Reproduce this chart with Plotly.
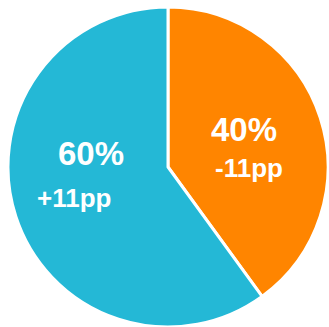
import plotly.graph_objects as go

# Share split and change in percentage points
labels = ["B", "A"]
shares = [40, 60]
changes = ["-11pp", "+11pp"]
colors = ["#FF8500", "#24B8D6"]

W, H = 329, 327

fig = go.Figure(
    go.Pie(
        labels=labels,
        values=shares,
        sort=False,
        direction="clockwise",
        rotation=0,
        marker=dict(colors=colors, line=dict(color="white", width=3)),
        textinfo="none",
        hoverinfo="label+percent",
        showlegend=False,
        domain=dict(x=[8 / W, 328 / W], y=[0, 1 - 7 / H]),
    )
)

# Label centres in pixels (x, y) for share and change lines
pct_pos = [(244, 129), (91, 153)]
chg_pos = [(249, 168), (74, 198)]

annotations = []
for share, change, (px, py), (cx, cy) in zip(shares, changes, pct_pos, chg_pos):
    annotations.append(dict(
        x=px / W, y=1 - py / H, xref="paper", yref="paper",
        text=f"{share}%", showarrow=False, xanchor="center", yanchor="middle",
        font=dict(family="Liberation Sans, Arial, sans-serif", size=33, color="white", weight="bold"),
    ))
    annotations.append(dict(
        x=cx / W, y=1 - cy / H, xref="paper", yref="paper",
        text=change, showarrow=False, xanchor="center", yanchor="middle",
        font=dict(family="Liberation Sans, Arial, sans-serif", size=26, color="white", weight="bold"),
    ))

fig.update_layout(
    width=W, height=H,
    margin=dict(l=0, r=0, t=0, b=0),
    paper_bgcolor="white",
    plot_bgcolor="white",
    annotations=annotations,
)

fig.write_html("out.html")
